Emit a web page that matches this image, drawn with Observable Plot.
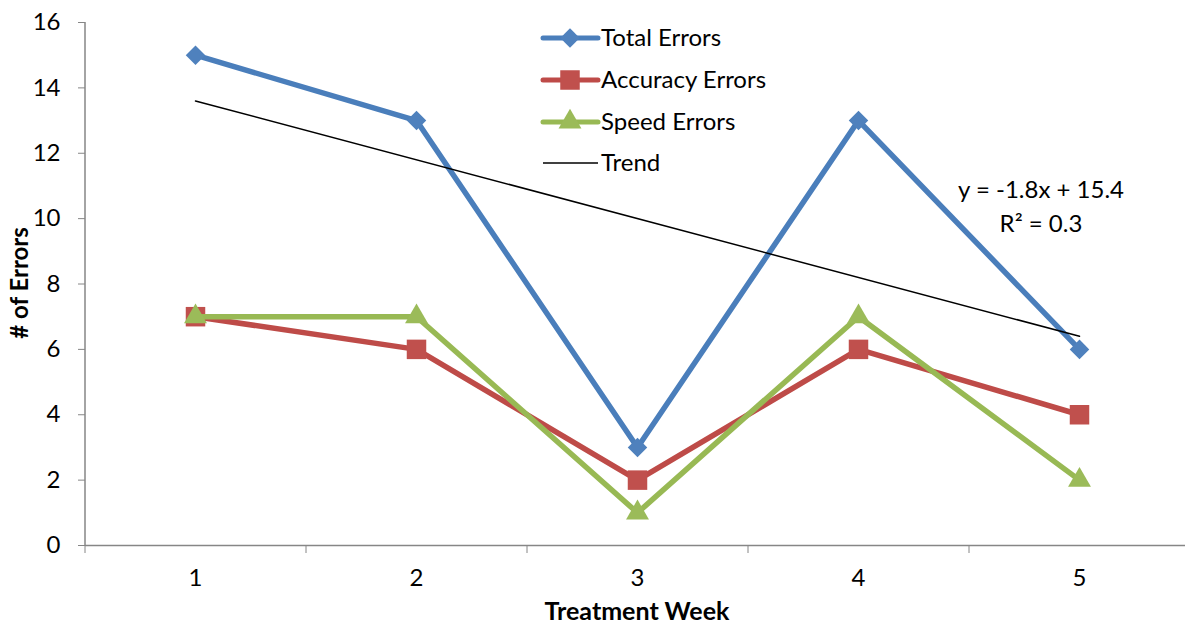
<!DOCTYPE html>
<html><head><meta charset="utf-8">
<script src="https://cdn.jsdelivr.net/npm/d3@7"></script>
<script src="https://cdn.jsdelivr.net/npm/@observablehq/plot@0.6"></script>
<style>
body{margin:0;background:#fff;}
#chart svg{font-family:Lato,"Open Sans",sans-serif;}
</style>
</head><body><div id="chart"></div>
<script>
// ---- data ----
const weeks = [1, 2, 3, 4, 5];
const totalErrors = [15, 13, 3, 13, 6];
const accuracyErrors = [7, 6, 2, 6, 4];
const speedErrors = [7, 7, 1, 7, 2];
const trendWeeks = [1, 5];
const trendValues = [13.6, 6.4];
const yTicks = [0, 2, 4, 6, 8, 10, 12, 14, 16];
const weekBoundaries = [0.5, 1.5, 2.5, 3.5, 4.5, 5.5];
const seriesNames = ["Total Errors", "Accuracy Errors", "Speed Errors", "Trend"];
const equationLines = ["y = -1.8x + 15.4", "R\u00B2 = 0.3"];
const xTitle = "Treatment Week";
const yTitle = "# of Errors";

// ---- style ----
const colors = {
  total: "#4A7EBB", totalMark: "#4F81BD",
  acc: "#BE4B48", accMark: "#C0504D",
  speed: "#98B954", speedMark: "#9BBB59",
  axis: "#868686"
};

const rows = (vals) => weeks.map((w, i) => ({week: w, value: vals[i]}));
const totalRows = rows(totalErrors);
const accRows = rows(accuracyErrors);
const speedRows = rows(speedErrors);
const trendRows = trendWeeks.map((w, i) => ({week: w, value: trendValues[i]}));

const chart = Plot.plot({
  width: 1185, height: 624,
  marginLeft: 85, marginRight: 0, marginTop: 22, marginBottom: 79,
  x: {domain: [0.5, 5.5], range: [84.5, 1189.5]},
  y: {domain: [0, 16]},
  style: {fontFamily: "Lato, 'Open Sans', sans-serif", fontSize: "24px", color: "#000", background: "#fff"},
  marks: [
    Plot.ruleY([0], {stroke: colors.axis, strokeWidth: 1.5}),
    Plot.ruleX([0.5], {y1: 0, y2: 16, stroke: colors.axis, strokeWidth: 1.5}),
    Plot.axisY({ticks: yTicks, tickSize: 7, tickPadding: 18, stroke: colors.axis, label: null, fontSize: 24}),
    Plot.axisX({ticks: weekBoundaries, tickSize: 8, tickFormat: () => "", stroke: colors.axis, label: null}),
    Plot.axisX({ticks: weeks, tickSize: 0, tickPadding: 23, tickFormat: d => String(d), label: null, fontSize: 24}),

    Plot.line(totalRows, {x: "week", y: "value", stroke: colors.total, strokeWidth: 5.5}),
    Plot.dot(totalRows, {x: "week", y: "value", symbol: "diamond2", r: 8.8, fill: colors.totalMark, stroke: "none"}),
    Plot.line(accRows, {x: "week", y: "value", stroke: colors.acc, strokeWidth: 5.5}),
    Plot.dot(accRows, {x: "week", y: "value", symbol: "square", r: 11, fill: colors.accMark, stroke: "none"}),
    Plot.line(speedRows, {x: "week", y: "value", stroke: colors.speed, strokeWidth: 5.5}),
    Plot.dot(speedRows, {x: "week", y: "value", symbol: "triangle", r: 8.5, fill: colors.speedMark, stroke: "none"}),
    Plot.line(trendRows, {x: "week", y: "value", stroke: "#000", strokeWidth: 1.5})
  ]
});

const svg = d3.select(chart);

// axis titles
svg.append("text")
  .attr("x", 637).attr("y", 611).attr("dy", "0.35em")
  .attr("text-anchor", "middle").attr("font-weight", "bold").attr("font-size", 25)
  .attr("fill", "#000").text(xTitle);
svg.append("text")
  .attr("transform", "translate(20,283) rotate(-90)").attr("dy", "0.35em")
  .attr("text-anchor", "middle").attr("font-weight", "bold").attr("font-size", 24)
  .attr("fill", "#000").text(yTitle);

// legend
const legendRowsY = [38, 80, 122, 163];
const legendSpecs = [
  {line: colors.total, sym: d3.symbolDiamond2, size: 240, fill: colors.totalMark, w: 5},
  {line: colors.acc, sym: d3.symbolSquare, size: 380, fill: colors.accMark, w: 5},
  {line: colors.speed, sym: d3.symbolTriangle, size: 227, fill: colors.speedMark, w: 5},
  {line: "#000", sym: null, w: 1.5}
];
const lg = svg.append("g").attr("text-anchor", "start");
legendSpecs.forEach((s, i) => {
  const y = legendRowsY[i];
  lg.append("line").attr("x1", 543).attr("x2", 598).attr("y1", y).attr("y2", y)
    .attr("stroke", s.line).attr("stroke-width", s.w).attr("stroke-linecap", s.sym ? "round" : "butt");
  if (s.sym) {
    lg.append("path").attr("d", d3.symbol(s.sym, s.size)()).attr("transform", `translate(570,${y})`)
      .attr("fill", s.fill);
  }
  lg.append("text").attr("x", 601).attr("y", y).attr("dy", "0.35em").attr("font-size", 24)
    .attr("text-anchor", "start").attr("fill", "#000").text(seriesNames[i]);
});

// equation
const eqY = [190, 224];
equationLines.forEach((t, i) => {
  svg.append("text").attr("x", 1041).attr("y", eqY[i]).attr("dy", "0.35em")
    .attr("text-anchor", "middle").attr("font-size", 24).attr("fill", "#000").text(t);
});

document.getElementById("chart").appendChild(chart);
</script>
</body></html>
